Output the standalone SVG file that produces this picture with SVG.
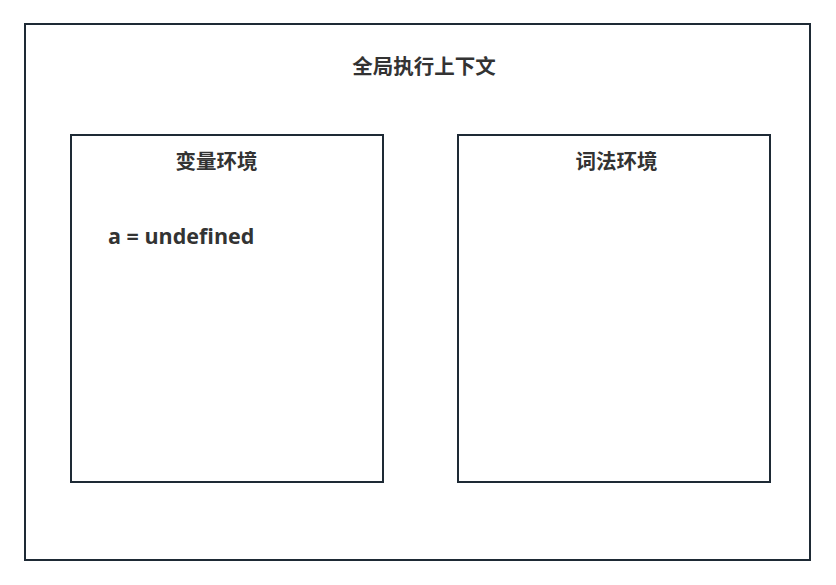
<svg xmlns="http://www.w3.org/2000/svg" width="836" height="585" viewBox="0 0 836 585">
<style>
.box{fill:#ffffff;stroke:#1e2a35;stroke-width:2}
.t{font-family:"Open Sans","Noto Sans CJK SC",sans-serif;font-weight:bold;fill:#333333}
.cjk{font-family:"Noto Sans CJK SC",sans-serif;font-size:20.5px;text-anchor:middle}
</style>
<rect width="836" height="585" fill="#ffffff"/>
<g id="global">
<rect class="box" x="25" y="24" width="785" height="536"/>
<text class="t cjk" x="424" y="74">全局执行上下文</text>
</g>
<g id="variable-env">
<rect class="box" x="71" y="135" width="312" height="347"/>
<text class="t cjk" x="216.5" y="169">变量环境</text>
<text class="t" x="108" y="244" font-size="21.5">a = undefined</text>
</g>
<g id="lexical-env">
<rect class="box" x="458" y="135" width="312" height="347"/>
<text class="t cjk" x="616.5" y="169">词法环境</text>
</g>
<g id="connectors"></g>
</svg>
